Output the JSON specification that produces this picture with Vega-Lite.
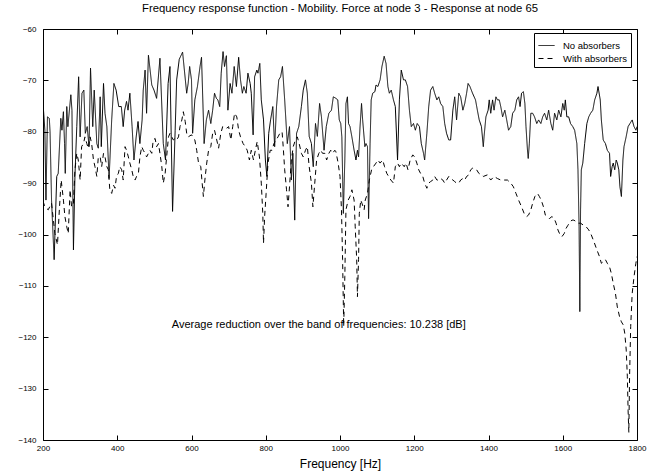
{
 "$schema": "https://vega.github.io/schema/vega-lite/v6.json",
 "width": 594, "height": 411,
 "autosize": {"type": "none"},
 "padding": {"left": 43, "top": 29, "right": 15, "bottom": 36},
 "background": "white",
 "title": {"text": "Frequency response function - Mobility. Force at node 3 - Response at node 65", "fontSize": 11.3, "font": "Liberation Sans", "fontWeight": "normal", "offset": 11, "color": "black"},
 "config": {"view": {"stroke": "black", "strokeWidth": 1}, "font": "Liberation Sans"},
 "layer": [
  {
   "data": {"values": [
{"f":200,"v":-77.0,"s":"No absorbers"},{"f":201,"v":-75.4,"s":"No absorbers"},{"f":205,"v":-79.7,"s":"No absorbers"},{"f":208,"v":-93.3,"s":"No absorbers"},{"f":212,"v":-77.1,"s":"No absorbers"},{"f":217,"v":-77.4,"s":"No absorbers"},{"f":219,"v":-80.0,"s":"No absorbers"},{"f":223,"v":-93.3,"s":"No absorbers"},{"f":230,"v":-104.9,"s":"No absorbers"},{"f":237,"v":-88.7,"s":"No absorbers"},{"f":241,"v":-88.1,"s":"No absorbers"},{"f":248,"v":-77.4,"s":"No absorbers"},{"f":251,"v":-79.7,"s":"No absorbers"},{"f":255,"v":-76.1,"s":"No absorbers"},{"f":258,"v":-82.3,"s":"No absorbers"},{"f":260,"v":-88.1,"s":"No absorbers"},{"f":264,"v":-75.1,"s":"No absorbers"},{"f":267,"v":-79.0,"s":"No absorbers"},{"f":275,"v":-72.8,"s":"No absorbers"},{"f":278,"v":-75.8,"s":"No absorbers"},{"f":282,"v":-103.0,"s":"No absorbers"},{"f":286,"v":-88.7,"s":"No absorbers"},{"f":291,"v":-79.0,"s":"No absorbers"},{"f":296,"v":-69.3,"s":"No absorbers"},{"f":300,"v":-81.0,"s":"No absorbers"},{"f":305,"v":-72.5,"s":"No absorbers"},{"f":310,"v":-71.9,"s":"No absorbers"},{"f":314,"v":-80.3,"s":"No absorbers"},{"f":319,"v":-79.0,"s":"No absorbers"},{"f":324,"v":-82.9,"s":"No absorbers"},{"f":328,"v":-67.6,"s":"No absorbers"},{"f":334,"v":-79.0,"s":"No absorbers"},{"f":338,"v":-71.9,"s":"No absorbers"},{"f":345,"v":-82.3,"s":"No absorbers"},{"f":349,"v":-83.2,"s":"No absorbers"},{"f":354,"v":-73.2,"s":"No absorbers"},{"f":357,"v":-82.9,"s":"No absorbers"},{"f":363,"v":-70.6,"s":"No absorbers"},{"f":367,"v":-76.4,"s":"No absorbers"},{"f":372,"v":-79.0,"s":"No absorbers"},{"f":378,"v":-89.1,"s":"No absorbers"},{"f":385,"v":-77.7,"s":"No absorbers"},{"f":391,"v":-70.6,"s":"No absorbers"},{"f":397,"v":-71.9,"s":"No absorbers"},{"f":404,"v":-75.1,"s":"No absorbers"},{"f":411,"v":-75.1,"s":"No absorbers"},{"f":416,"v":-79.0,"s":"No absorbers"},{"f":420,"v":-75.8,"s":"No absorbers"},{"f":425,"v":-74.1,"s":"No absorbers"},{"f":429,"v":-75.8,"s":"No absorbers"},{"f":434,"v":-72.5,"s":"No absorbers"},{"f":440,"v":-79.0,"s":"No absorbers"},{"f":445,"v":-85.5,"s":"No absorbers"},{"f":451,"v":-81.0,"s":"No absorbers"},{"f":456,"v":-78.0,"s":"No absorbers"},{"f":461,"v":-82.3,"s":"No absorbers"},{"f":467,"v":-77.7,"s":"No absorbers"},{"f":470,"v":-71.9,"s":"No absorbers"},{"f":475,"v":-68.0,"s":"No absorbers"},{"f":479,"v":-76.4,"s":"No absorbers"},{"f":484,"v":-65.1,"s":"No absorbers"},{"f":493,"v":-70.9,"s":"No absorbers"},{"f":499,"v":-71.9,"s":"No absorbers"},{"f":506,"v":-73.5,"s":"No absorbers"},{"f":515,"v":-65.7,"s":"No absorbers"},{"f":524,"v":-82.3,"s":"No absorbers"},{"f":530,"v":-85.5,"s":"No absorbers"},{"f":537,"v":-70.6,"s":"No absorbers"},{"f":542,"v":-67.3,"s":"No absorbers"},{"f":549,"v":-95.5,"s":"No absorbers"},{"f":556,"v":-79.7,"s":"No absorbers"},{"f":560,"v":-69.9,"s":"No absorbers"},{"f":567,"v":-65.9,"s":"No absorbers"},{"f":576,"v":-64.5,"s":"No absorbers"},{"f":587,"v":-72.5,"s":"No absorbers"},
{"f":591,"v":-70.6,"s":"No absorbers"},{"f":595,"v":-67.3,"s":"No absorbers"},{"f":600,"v":-69.9,"s":"No absorbers"},{"f":603,"v":-80.3,"s":"No absorbers"},{"f":609,"v":-73.8,"s":"No absorbers"},{"f":616,"v":-71.2,"s":"No absorbers"},{"f":623,"v":-67.3,"s":"No absorbers"},{"f":627,"v":-65.5,"s":"No absorbers"},{"f":634,"v":-82.3,"s":"No absorbers"},{"f":640,"v":-77.7,"s":"No absorbers"},{"f":646,"v":-75.8,"s":"No absorbers"},{"f":652,"v":-78.4,"s":"No absorbers"},{"f":657,"v":-75.8,"s":"No absorbers"},{"f":662,"v":-72.5,"s":"No absorbers"},{"f":667,"v":-73.5,"s":"No absorbers"},{"f":671,"v":-73.8,"s":"No absorbers"},{"f":676,"v":-75.1,"s":"No absorbers"},{"f":680,"v":-68.6,"s":"No absorbers"},{"f":685,"v":-64.4,"s":"No absorbers"},{"f":689,"v":-67.3,"s":"No absorbers"},{"f":694,"v":-65.2,"s":"No absorbers"},{"f":698,"v":-75.8,"s":"No absorbers"},{"f":704,"v":-70.6,"s":"No absorbers"},{"f":709,"v":-72.5,"s":"No absorbers"},{"f":715,"v":-67.3,"s":"No absorbers"},{"f":721,"v":-71.2,"s":"No absorbers"},{"f":727,"v":-65.5,"s":"No absorbers"},{"f":732,"v":-69.9,"s":"No absorbers"},{"f":737,"v":-72.5,"s":"No absorbers"},{"f":741,"v":-71.2,"s":"No absorbers"},{"f":747,"v":-72.5,"s":"No absorbers"},{"f":752,"v":-68.6,"s":"No absorbers"},{"f":758,"v":-70.6,"s":"No absorbers"},{"f":761,"v":-72.5,"s":"No absorbers"},{"f":766,"v":-80.6,"s":"No absorbers"},{"f":770,"v":-69.3,"s":"No absorbers"},{"f":776,"v":-68.0,"s":"No absorbers"},{"f":779,"v":-68.6,"s":"No absorbers"},{"f":784,"v":-66.7,"s":"No absorbers"},{"f":788,"v":-73.8,"s":"No absorbers"},{"f":794,"v":-77.7,"s":"No absorbers"},{"f":799,"v":-85.5,"s":"No absorbers"},{"f":803,"v":-88.7,"s":"No absorbers"},{"f":808,"v":-80.3,"s":"No absorbers"},{"f":813,"v":-77.7,"s":"No absorbers"},{"f":819,"v":-75.1,"s":"No absorbers"},{"f":824,"v":-82.9,"s":"No absorbers"},{"f":829,"v":-75.1,"s":"No absorbers"},{"f":835,"v":-69.9,"s":"No absorbers"},{"f":840,"v":-69.3,"s":"No absorbers"},{"f":845,"v":-67.3,"s":"No absorbers"},{"f":851,"v":-73.8,"s":"No absorbers"},{"f":858,"v":-82.3,"s":"No absorbers"},{"f":864,"v":-79.0,"s":"No absorbers"},{"f":869,"v":-89.4,"s":"No absorbers"},{"f":873,"v":-84.2,"s":"No absorbers"},{"f":878,"v":-97.2,"s":"No absorbers"},{"f":883,"v":-80.3,"s":"No absorbers"},{"f":889,"v":-79.0,"s":"No absorbers"},{"f":896,"v":-75.1,"s":"No absorbers"},{"f":901,"v":-71.9,"s":"No absorbers"},{"f":907,"v":-69.9,"s":"No absorbers"},{"f":912,"v":-72.5,"s":"No absorbers"},{"f":917,"v":-80.9,"s":"No absorbers"},{"f":923,"v":-82.3,"s":"No absorbers"},{"f":928,"v":-86.8,"s":"No absorbers"},{"f":934,"v":-78.4,"s":"No absorbers"},{"f":939,"v":-80.9,"s":"No absorbers"},{"f":945,"v":-74.5,"s":"No absorbers"},{"f":950,"v":-77.1,"s":"No absorbers"},{"f":957,"v":-83.6,"s":"No absorbers"},{"f":963,"v":-79.0,"s":"No absorbers"},{"f":970,"v":-76.4,"s":"No absorbers"},{"f":977,"v":-75.8,"s":"No absorbers"},{"f":982,"v":-73.2,"s":"No absorbers"},
{"f":989,"v":-73.5,"s":"No absorbers"},{"f":994,"v":-73.8,"s":"No absorbers"},{"f":998,"v":-77.7,"s":"No absorbers"},{"f":1002,"v":-78.4,"s":"No absorbers"},{"f":1005,"v":-81.0,"s":"No absorbers"},{"f":1009,"v":-95.9,"s":"No absorbers"},{"f":1013,"v":-85.5,"s":"No absorbers"},{"f":1016,"v":-74.5,"s":"No absorbers"},{"f":1020,"v":-73.2,"s":"No absorbers"},{"f":1023,"v":-78.4,"s":"No absorbers"},{"f":1027,"v":-79.0,"s":"No absorbers"},{"f":1032,"v":-81.0,"s":"No absorbers"},{"f":1038,"v":-83.6,"s":"No absorbers"},{"f":1043,"v":-85.5,"s":"No absorbers"},{"f":1047,"v":-83.6,"s":"No absorbers"},{"f":1050,"v":-84.9,"s":"No absorbers"},{"f":1054,"v":-79.0,"s":"No absorbers"},{"f":1058,"v":-74.5,"s":"No absorbers"},{"f":1061,"v":-77.7,"s":"No absorbers"},{"f":1067,"v":-82.9,"s":"No absorbers"},{"f":1070,"v":-82.3,"s":"No absorbers"},{"f":1074,"v":-82.9,"s":"No absorbers"},{"f":1077,"v":-96.9,"s":"No absorbers"},{"f":1081,"v":-82.3,"s":"No absorbers"},{"f":1084,"v":-73.8,"s":"No absorbers"},{"f":1088,"v":-72.5,"s":"No absorbers"},{"f":1094,"v":-72.2,"s":"No absorbers"},{"f":1097,"v":-70.9,"s":"No absorbers"},{"f":1102,"v":-71.2,"s":"No absorbers"},{"f":1108,"v":-69.9,"s":"No absorbers"},{"f":1113,"v":-67.3,"s":"No absorbers"},{"f":1119,"v":-65.3,"s":"No absorbers"},{"f":1124,"v":-66.7,"s":"No absorbers"},{"f":1129,"v":-71.2,"s":"No absorbers"},{"f":1133,"v":-72.5,"s":"No absorbers"},{"f":1138,"v":-71.9,"s":"No absorbers"},{"f":1144,"v":-73.8,"s":"No absorbers"},{"f":1149,"v":-75.1,"s":"No absorbers"},{"f":1155,"v":-85.5,"s":"No absorbers"},{"f":1160,"v":-73.8,"s":"No absorbers"},{"f":1165,"v":-68.0,"s":"No absorbers"},{"f":1171,"v":-69.9,"s":"No absorbers"},{"f":1176,"v":-69.9,"s":"No absorbers"},{"f":1182,"v":-71.2,"s":"No absorbers"},{"f":1187,"v":-75.8,"s":"No absorbers"},{"f":1192,"v":-79.0,"s":"No absorbers"},{"f":1198,"v":-78.4,"s":"No absorbers"},{"f":1203,"v":-79.7,"s":"No absorbers"},{"f":1208,"v":-78.4,"s":"No absorbers"},{"f":1214,"v":-79.0,"s":"No absorbers"},{"f":1219,"v":-82.3,"s":"No absorbers"},{"f":1225,"v":-84.2,"s":"No absorbers"},{"f":1228,"v":-85.5,"s":"No absorbers"},{"f":1234,"v":-80.3,"s":"No absorbers"},{"f":1239,"v":-75.1,"s":"No absorbers"},{"f":1244,"v":-71.9,"s":"No absorbers"},{"f":1250,"v":-71.2,"s":"No absorbers"},{"f":1255,"v":-72.5,"s":"No absorbers"},{"f":1261,"v":-73.8,"s":"No absorbers"},{"f":1266,"v":-73.2,"s":"No absorbers"},{"f":1271,"v":-74.5,"s":"No absorbers"},{"f":1277,"v":-75.1,"s":"No absorbers"},{"f":1282,"v":-78.4,"s":"No absorbers"},{"f":1287,"v":-80.3,"s":"No absorbers"},{"f":1293,"v":-81.6,"s":"No absorbers"},{"f":1298,"v":-81.6,"s":"No absorbers"},{"f":1304,"v":-75.8,"s":"No absorbers"},{"f":1309,"v":-73.2,"s":"No absorbers"},{"f":1314,"v":-77.7,"s":"No absorbers"},{"f":1320,"v":-72.5,"s":"No absorbers"},{"f":1325,"v":-73.2,"s":"No absorbers"},{"f":1331,"v":-75.8,"s":"No absorbers"},{"f":1336,"v":-74.5,"s":"No absorbers"},{"f":1341,"v":-72.5,"s":"No absorbers"},{"f":1345,"v":-70.6,"s":"No absorbers"},{"f":1350,"v":-71.2,"s":"No absorbers"},{"f":1357,"v":-72.5,"s":"No absorbers"},{"f":1365,"v":-73.8,"s":"No absorbers"},{"f":1370,"v":-75.8,"s":"No absorbers"},{"f":1375,"v":-77.7,"s":"No absorbers"},{"f":1381,"v":-79.0,"s":"No absorbers"},{"f":1386,"v":-82.9,"s":"No absorbers"},
{"f":1388,"v":-81.0,"s":"No absorbers"},{"f":1393,"v":-77.1,"s":"No absorbers"},{"f":1399,"v":-75.8,"s":"No absorbers"},{"f":1402,"v":-73.8,"s":"No absorbers"},{"f":1406,"v":-76.4,"s":"No absorbers"},{"f":1411,"v":-73.8,"s":"No absorbers"},{"f":1415,"v":-75.8,"s":"No absorbers"},{"f":1420,"v":-73.2,"s":"No absorbers"},{"f":1424,"v":-73.8,"s":"No absorbers"},{"f":1429,"v":-73.8,"s":"No absorbers"},{"f":1433,"v":-75.1,"s":"No absorbers"},{"f":1438,"v":-77.1,"s":"No absorbers"},{"f":1444,"v":-75.8,"s":"No absorbers"},{"f":1449,"v":-77.7,"s":"No absorbers"},{"f":1454,"v":-79.7,"s":"No absorbers"},{"f":1460,"v":-79.0,"s":"No absorbers"},{"f":1465,"v":-76.4,"s":"No absorbers"},{"f":1471,"v":-75.8,"s":"No absorbers"},{"f":1476,"v":-73.8,"s":"No absorbers"},{"f":1481,"v":-73.2,"s":"No absorbers"},{"f":1485,"v":-75.1,"s":"No absorbers"},{"f":1489,"v":-72.5,"s":"No absorbers"},{"f":1494,"v":-72.2,"s":"No absorbers"},{"f":1498,"v":-74.5,"s":"No absorbers"},{"f":1501,"v":-79.0,"s":"No absorbers"},{"f":1505,"v":-83.6,"s":"No absorbers"},{"f":1507,"v":-85.2,"s":"No absorbers"},{"f":1510,"v":-82.3,"s":"No absorbers"},{"f":1514,"v":-76.4,"s":"No absorbers"},{"f":1519,"v":-76.4,"s":"No absorbers"},{"f":1524,"v":-77.1,"s":"No absorbers"},{"f":1530,"v":-78.4,"s":"No absorbers"},{"f":1535,"v":-77.7,"s":"No absorbers"},{"f":1541,"v":-78.4,"s":"No absorbers"},{"f":1546,"v":-77.1,"s":"No absorbers"},{"f":1551,"v":-76.4,"s":"No absorbers"},{"f":1557,"v":-77.7,"s":"No absorbers"},{"f":1562,"v":-75.8,"s":"No absorbers"},{"f":1568,"v":-78.4,"s":"No absorbers"},{"f":1573,"v":-79.7,"s":"No absorbers"},{"f":1578,"v":-76.4,"s":"No absorbers"},{"f":1584,"v":-77.7,"s":"No absorbers"},{"f":1589,"v":-75.8,"s":"No absorbers"},{"f":1595,"v":-77.1,"s":"No absorbers"},{"f":1600,"v":-74.5,"s":"No absorbers"},{"f":1604,"v":-75.8,"s":"No absorbers"},{"f":1607,"v":-73.8,"s":"No absorbers"},{"f":1611,"v":-77.1,"s":"No absorbers"},{"f":1616,"v":-77.1,"s":"No absorbers"},{"f":1621,"v":-78.4,"s":"No absorbers"},{"f":1627,"v":-79.0,"s":"No absorbers"},{"f":1632,"v":-79.7,"s":"No absorbers"},{"f":1638,"v":-82.3,"s":"No absorbers"},{"f":1641,"v":-87.4,"s":"No absorbers"},{"f":1644,"v":-98.5,"s":"No absorbers"},{"f":1646,"v":-115.0,"s":"No absorbers"},{"f":1648,"v":-95.2,"s":"No absorbers"},{"f":1650,"v":-87.4,"s":"No absorbers"},{"f":1654,"v":-86.1,"s":"No absorbers"},{"f":1659,"v":-82.3,"s":"No absorbers"},{"f":1665,"v":-78.4,"s":"No absorbers"},{"f":1670,"v":-77.1,"s":"No absorbers"},{"f":1675,"v":-76.4,"s":"No absorbers"},{"f":1681,"v":-75.8,"s":"No absorbers"},{"f":1686,"v":-73.8,"s":"No absorbers"},{"f":1692,"v":-72.5,"s":"No absorbers"},{"f":1695,"v":-71.2,"s":"No absorbers"},{"f":1701,"v":-73.8,"s":"No absorbers"},{"f":1704,"v":-77.7,"s":"No absorbers"},{"f":1709,"v":-81.6,"s":"No absorbers"},{"f":1715,"v":-82.3,"s":"No absorbers"},{"f":1720,"v":-83.6,"s":"No absorbers"},{"f":1726,"v":-84.2,"s":"No absorbers"},{"f":1729,"v":-88.7,"s":"No absorbers"},{"f":1733,"v":-86.8,"s":"No absorbers"},{"f":1736,"v":-86.1,"s":"No absorbers"},{"f":1740,"v":-87.4,"s":"No absorbers"},{"f":1744,"v":-85.5,"s":"No absorbers"},{"f":1747,"v":-86.1,"s":"No absorbers"},{"f":1751,"v":-87.4,"s":"No absorbers"},{"f":1754,"v":-90.7,"s":"No absorbers"},{"f":1758,"v":-92.6,"s":"No absorbers"},{"f":1762,"v":-85.5,"s":"No absorbers"},{"f":1765,"v":-82.9,"s":"No absorbers"},{"f":1771,"v":-80.9,"s":"No absorbers"},{"f":1776,"v":-79.0,"s":"No absorbers"},{"f":1781,"v":-78.4,"s":"No absorbers"},{"f":1787,"v":-77.7,"s":"No absorbers"},{"f":1792,"v":-79.0,"s":"No absorbers"},{"f":1797,"v":-79.7,"s":"No absorbers"},{"f":1800,"v":-79.0,"s":"No absorbers"},
{"f":200,"v":-93.5,"s":"With absorbers"},{"f":205,"v":-94.6,"s":"With absorbers"},{"f":214,"v":-95.2,"s":"With absorbers"},{"f":223,"v":-93.9,"s":"With absorbers"},{"f":232,"v":-99.8,"s":"With absorbers"},{"f":239,"v":-102.0,"s":"With absorbers"},{"f":244,"v":-95.2,"s":"With absorbers"},{"f":249,"v":-89.4,"s":"With absorbers"},{"f":255,"v":-93.3,"s":"With absorbers"},{"f":259,"v":-96.5,"s":"With absorbers"},{"f":264,"v":-98.5,"s":"With absorbers"},{"f":268,"v":-99.8,"s":"With absorbers"},{"f":273,"v":-91.3,"s":"With absorbers"},{"f":277,"v":-94.6,"s":"With absorbers"},{"f":282,"v":-93.9,"s":"With absorbers"},{"f":286,"v":-87.4,"s":"With absorbers"},{"f":291,"v":-84.2,"s":"With absorbers"},{"f":295,"v":-85.5,"s":"With absorbers"},{"f":300,"v":-89.4,"s":"With absorbers"},{"f":304,"v":-82.9,"s":"With absorbers"},{"f":309,"v":-82.3,"s":"With absorbers"},{"f":313,"v":-81.0,"s":"With absorbers"},{"f":318,"v":-82.3,"s":"With absorbers"},{"f":322,"v":-83.2,"s":"With absorbers"},{"f":327,"v":-81.0,"s":"With absorbers"},{"f":331,"v":-82.3,"s":"With absorbers"},{"f":336,"v":-85.5,"s":"With absorbers"},{"f":340,"v":-86.8,"s":"With absorbers"},{"f":345,"v":-88.7,"s":"With absorbers"},{"f":349,"v":-84.9,"s":"With absorbers"},{"f":354,"v":-84.9,"s":"With absorbers"},{"f":358,"v":-86.8,"s":"With absorbers"},{"f":363,"v":-84.2,"s":"With absorbers"},{"f":367,"v":-84.9,"s":"With absorbers"},{"f":372,"v":-86.8,"s":"With absorbers"},{"f":376,"v":-87.4,"s":"With absorbers"},{"f":380,"v":-91.3,"s":"With absorbers"},{"f":385,"v":-92.0,"s":"With absorbers"},{"f":390,"v":-90.4,"s":"With absorbers"},{"f":394,"v":-91.0,"s":"With absorbers"},{"f":398,"v":-88.7,"s":"With absorbers"},{"f":403,"v":-88.1,"s":"With absorbers"},{"f":407,"v":-86.8,"s":"With absorbers"},{"f":412,"v":-87.4,"s":"With absorbers"},{"f":416,"v":-89.4,"s":"With absorbers"},{"f":421,"v":-82.9,"s":"With absorbers"},{"f":425,"v":-83.6,"s":"With absorbers"},{"f":430,"v":-84.9,"s":"With absorbers"},{"f":434,"v":-86.1,"s":"With absorbers"},{"f":439,"v":-87.4,"s":"With absorbers"},{"f":443,"v":-88.7,"s":"With absorbers"},{"f":448,"v":-89.4,"s":"With absorbers"},{"f":452,"v":-88.7,"s":"With absorbers"},{"f":457,"v":-88.1,"s":"With absorbers"},{"f":461,"v":-84.9,"s":"With absorbers"},{"f":466,"v":-82.9,"s":"With absorbers"},{"f":470,"v":-83.6,"s":"With absorbers"},{"f":475,"v":-84.2,"s":"With absorbers"},{"f":479,"v":-84.9,"s":"With absorbers"},{"f":484,"v":-84.2,"s":"With absorbers"},{"f":488,"v":-83.6,"s":"With absorbers"},{"f":493,"v":-84.2,"s":"With absorbers"},{"f":497,"v":-81.6,"s":"With absorbers"},{"f":502,"v":-81.3,"s":"With absorbers"},{"f":506,"v":-82.9,"s":"With absorbers"},{"f":511,"v":-82.3,"s":"With absorbers"},{"f":515,"v":-84.2,"s":"With absorbers"},{"f":520,"v":-86.8,"s":"With absorbers"},{"f":524,"v":-90.0,"s":"With absorbers"},{"f":529,"v":-88.1,"s":"With absorbers"},{"f":533,"v":-84.9,"s":"With absorbers"},{"f":538,"v":-81.0,"s":"With absorbers"},{"f":542,"v":-80.3,"s":"With absorbers"},{"f":547,"v":-81.0,"s":"With absorbers"},{"f":551,"v":-81.6,"s":"With absorbers"},{"f":556,"v":-81.3,"s":"With absorbers"},{"f":560,"v":-81.6,"s":"With absorbers"},{"f":565,"v":-81.0,"s":"With absorbers"},{"f":569,"v":-79.0,"s":"With absorbers"},{"f":574,"v":-77.7,"s":"With absorbers"},{"f":578,"v":-76.1,"s":"With absorbers"},{"f":583,"v":-78.0,"s":"With absorbers"},{"f":587,"v":-80.3,"s":"With absorbers"},
{"f":591,"v":-81.0,"s":"With absorbers"},{"f":600,"v":-80.6,"s":"With absorbers"},{"f":609,"v":-81.6,"s":"With absorbers"},{"f":614,"v":-83.6,"s":"With absorbers"},{"f":619,"v":-86.1,"s":"With absorbers"},{"f":625,"v":-86.8,"s":"With absorbers"},{"f":628,"v":-89.4,"s":"With absorbers"},{"f":632,"v":-92.6,"s":"With absorbers"},{"f":636,"v":-89.4,"s":"With absorbers"},{"f":641,"v":-86.1,"s":"With absorbers"},{"f":646,"v":-83.6,"s":"With absorbers"},{"f":652,"v":-82.9,"s":"With absorbers"},{"f":657,"v":-80.3,"s":"With absorbers"},{"f":662,"v":-79.7,"s":"With absorbers"},{"f":668,"v":-81.6,"s":"With absorbers"},{"f":673,"v":-83.2,"s":"With absorbers"},{"f":679,"v":-80.3,"s":"With absorbers"},{"f":684,"v":-79.0,"s":"With absorbers"},{"f":689,"v":-79.3,"s":"With absorbers"},{"f":695,"v":-79.3,"s":"With absorbers"},{"f":700,"v":-79.0,"s":"With absorbers"},{"f":706,"v":-81.6,"s":"With absorbers"},{"f":711,"v":-79.0,"s":"With absorbers"},{"f":716,"v":-76.4,"s":"With absorbers"},{"f":722,"v":-77.1,"s":"With absorbers"},{"f":727,"v":-79.7,"s":"With absorbers"},{"f":732,"v":-81.0,"s":"With absorbers"},{"f":739,"v":-82.3,"s":"With absorbers"},{"f":745,"v":-82.9,"s":"With absorbers"},{"f":750,"v":-83.6,"s":"With absorbers"},{"f":756,"v":-85.5,"s":"With absorbers"},{"f":761,"v":-83.6,"s":"With absorbers"},{"f":767,"v":-85.5,"s":"With absorbers"},{"f":772,"v":-83.6,"s":"With absorbers"},{"f":777,"v":-81.9,"s":"With absorbers"},{"f":783,"v":-84.9,"s":"With absorbers"},{"f":788,"v":-90.0,"s":"With absorbers"},{"f":792,"v":-95.9,"s":"With absorbers"},{"f":794,"v":-101.7,"s":"With absorbers"},{"f":797,"v":-96.5,"s":"With absorbers"},{"f":801,"v":-92.0,"s":"With absorbers"},{"f":806,"v":-86.1,"s":"With absorbers"},{"f":812,"v":-83.6,"s":"With absorbers"},{"f":817,"v":-83.6,"s":"With absorbers"},{"f":822,"v":-82.3,"s":"With absorbers"},{"f":828,"v":-81.6,"s":"With absorbers"},{"f":833,"v":-81.0,"s":"With absorbers"},{"f":838,"v":-80.3,"s":"With absorbers"},{"f":844,"v":-80.0,"s":"With absorbers"},{"f":847,"v":-82.9,"s":"With absorbers"},{"f":851,"v":-87.4,"s":"With absorbers"},{"f":856,"v":-91.3,"s":"With absorbers"},{"f":860,"v":-94.6,"s":"With absorbers"},{"f":864,"v":-90.7,"s":"With absorbers"},{"f":869,"v":-85.5,"s":"With absorbers"},{"f":874,"v":-82.9,"s":"With absorbers"},{"f":880,"v":-81.6,"s":"With absorbers"},{"f":885,"v":-81.0,"s":"With absorbers"},{"f":890,"v":-82.3,"s":"With absorbers"},{"f":896,"v":-84.2,"s":"With absorbers"},{"f":901,"v":-84.9,"s":"With absorbers"},{"f":907,"v":-83.6,"s":"With absorbers"},{"f":912,"v":-82.9,"s":"With absorbers"},{"f":917,"v":-86.8,"s":"With absorbers"},{"f":923,"v":-90.0,"s":"With absorbers"},{"f":927,"v":-94.6,"s":"With absorbers"},{"f":932,"v":-90.0,"s":"With absorbers"},{"f":937,"v":-85.5,"s":"With absorbers"},{"f":943,"v":-84.2,"s":"With absorbers"},{"f":948,"v":-83.6,"s":"With absorbers"},{"f":953,"v":-84.2,"s":"With absorbers"},{"f":959,"v":-84.2,"s":"With absorbers"},{"f":964,"v":-85.5,"s":"With absorbers"},{"f":970,"v":-84.2,"s":"With absorbers"},{"f":975,"v":-83.6,"s":"With absorbers"},{"f":980,"v":-84.2,"s":"With absorbers"},{"f":986,"v":-83.6,"s":"With absorbers"},
{"f":989,"v":-83.9,"s":"With absorbers"},{"f":995,"v":-86.1,"s":"With absorbers"},{"f":1000,"v":-88.7,"s":"With absorbers"},{"f":1004,"v":-95.2,"s":"With absorbers"},{"f":1007,"v":-104.9,"s":"With absorbers"},{"f":1010,"v":-117.9,"s":"With absorbers"},{"f":1013,"v":-108.2,"s":"With absorbers"},{"f":1016,"v":-95.2,"s":"With absorbers"},{"f":1022,"v":-93.3,"s":"With absorbers"},{"f":1027,"v":-92.6,"s":"With absorbers"},{"f":1032,"v":-91.3,"s":"With absorbers"},{"f":1038,"v":-93.3,"s":"With absorbers"},{"f":1041,"v":-98.5,"s":"With absorbers"},{"f":1045,"v":-104.9,"s":"With absorbers"},{"f":1047,"v":-112.1,"s":"With absorbers"},{"f":1050,"v":-104.9,"s":"With absorbers"},{"f":1052,"v":-95.9,"s":"With absorbers"},{"f":1056,"v":-93.3,"s":"With absorbers"},{"f":1059,"v":-93.9,"s":"With absorbers"},{"f":1065,"v":-95.2,"s":"With absorbers"},{"f":1068,"v":-93.3,"s":"With absorbers"},{"f":1074,"v":-92.0,"s":"With absorbers"},{"f":1079,"v":-89.4,"s":"With absorbers"},{"f":1085,"v":-87.4,"s":"With absorbers"},{"f":1090,"v":-86.8,"s":"With absorbers"},{"f":1097,"v":-86.1,"s":"With absorbers"},{"f":1102,"v":-85.5,"s":"With absorbers"},{"f":1108,"v":-86.1,"s":"With absorbers"},{"f":1115,"v":-85.5,"s":"With absorbers"},{"f":1120,"v":-86.8,"s":"With absorbers"},{"f":1126,"v":-88.1,"s":"With absorbers"},{"f":1131,"v":-88.7,"s":"With absorbers"},{"f":1137,"v":-89.4,"s":"With absorbers"},{"f":1144,"v":-90.0,"s":"With absorbers"},{"f":1149,"v":-86.8,"s":"With absorbers"},{"f":1155,"v":-86.1,"s":"With absorbers"},{"f":1160,"v":-86.8,"s":"With absorbers"},{"f":1165,"v":-86.1,"s":"With absorbers"},{"f":1173,"v":-86.8,"s":"With absorbers"},{"f":1178,"v":-86.1,"s":"With absorbers"},{"f":1183,"v":-87.4,"s":"With absorbers"},{"f":1189,"v":-85.5,"s":"With absorbers"},{"f":1196,"v":-84.5,"s":"With absorbers"},{"f":1201,"v":-84.9,"s":"With absorbers"},{"f":1207,"v":-86.1,"s":"With absorbers"},{"f":1212,"v":-87.4,"s":"With absorbers"},{"f":1217,"v":-88.1,"s":"With absorbers"},{"f":1223,"v":-88.7,"s":"With absorbers"},{"f":1228,"v":-90.0,"s":"With absorbers"},{"f":1234,"v":-91.0,"s":"With absorbers"},{"f":1239,"v":-90.0,"s":"With absorbers"},{"f":1244,"v":-89.7,"s":"With absorbers"},{"f":1250,"v":-89.4,"s":"With absorbers"},{"f":1255,"v":-88.7,"s":"With absorbers"},{"f":1261,"v":-89.4,"s":"With absorbers"},{"f":1266,"v":-89.4,"s":"With absorbers"},{"f":1271,"v":-89.1,"s":"With absorbers"},{"f":1277,"v":-89.4,"s":"With absorbers"},{"f":1282,"v":-90.0,"s":"With absorbers"},{"f":1287,"v":-89.4,"s":"With absorbers"},{"f":1293,"v":-88.7,"s":"With absorbers"},{"f":1298,"v":-89.1,"s":"With absorbers"},{"f":1304,"v":-89.4,"s":"With absorbers"},{"f":1309,"v":-89.7,"s":"With absorbers"},{"f":1314,"v":-90.0,"s":"With absorbers"},{"f":1320,"v":-90.0,"s":"With absorbers"},{"f":1325,"v":-89.4,"s":"With absorbers"},{"f":1331,"v":-89.1,"s":"With absorbers"},{"f":1336,"v":-89.4,"s":"With absorbers"},{"f":1341,"v":-88.7,"s":"With absorbers"},{"f":1347,"v":-88.4,"s":"With absorbers"},{"f":1352,"v":-87.4,"s":"With absorbers"},{"f":1357,"v":-87.1,"s":"With absorbers"},{"f":1363,"v":-87.4,"s":"With absorbers"},{"f":1368,"v":-87.4,"s":"With absorbers"},{"f":1374,"v":-88.1,"s":"With absorbers"},{"f":1381,"v":-88.4,"s":"With absorbers"},{"f":1386,"v":-88.7,"s":"With absorbers"},
{"f":1397,"v":-88.4,"s":"With absorbers"},{"f":1406,"v":-89.4,"s":"With absorbers"},{"f":1415,"v":-88.7,"s":"With absorbers"},{"f":1424,"v":-89.1,"s":"With absorbers"},{"f":1433,"v":-89.4,"s":"With absorbers"},{"f":1442,"v":-89.4,"s":"With absorbers"},{"f":1451,"v":-89.4,"s":"With absorbers"},{"f":1460,"v":-90.0,"s":"With absorbers"},{"f":1467,"v":-90.7,"s":"With absorbers"},{"f":1474,"v":-92.0,"s":"With absorbers"},{"f":1481,"v":-93.3,"s":"With absorbers"},{"f":1489,"v":-94.6,"s":"With absorbers"},{"f":1496,"v":-95.9,"s":"With absorbers"},{"f":1503,"v":-96.5,"s":"With absorbers"},{"f":1508,"v":-96.2,"s":"With absorbers"},{"f":1514,"v":-95.2,"s":"With absorbers"},{"f":1519,"v":-93.9,"s":"With absorbers"},{"f":1525,"v":-92.6,"s":"With absorbers"},{"f":1532,"v":-92.0,"s":"With absorbers"},{"f":1537,"v":-92.6,"s":"With absorbers"},{"f":1542,"v":-93.3,"s":"With absorbers"},{"f":1548,"v":-94.6,"s":"With absorbers"},{"f":1553,"v":-96.2,"s":"With absorbers"},{"f":1559,"v":-96.5,"s":"With absorbers"},{"f":1564,"v":-96.9,"s":"With absorbers"},{"f":1571,"v":-96.5,"s":"With absorbers"},{"f":1577,"v":-96.9,"s":"With absorbers"},{"f":1582,"v":-97.8,"s":"With absorbers"},{"f":1587,"v":-99.1,"s":"With absorbers"},{"f":1593,"v":-100.1,"s":"With absorbers"},{"f":1598,"v":-100.4,"s":"With absorbers"},{"f":1604,"v":-99.8,"s":"With absorbers"},{"f":1609,"v":-98.8,"s":"With absorbers"},{"f":1614,"v":-98.2,"s":"With absorbers"},{"f":1620,"v":-97.5,"s":"With absorbers"},{"f":1625,"v":-97.2,"s":"With absorbers"},{"f":1630,"v":-97.2,"s":"With absorbers"},{"f":1636,"v":-97.5,"s":"With absorbers"},{"f":1641,"v":-97.8,"s":"With absorbers"},{"f":1648,"v":-97.8,"s":"With absorbers"},{"f":1656,"v":-98.2,"s":"With absorbers"},{"f":1663,"v":-98.5,"s":"With absorbers"},{"f":1670,"v":-99.1,"s":"With absorbers"},{"f":1677,"v":-100.1,"s":"With absorbers"},{"f":1684,"v":-101.4,"s":"With absorbers"},{"f":1692,"v":-103.0,"s":"With absorbers"},{"f":1699,"v":-104.3,"s":"With absorbers"},{"f":1704,"v":-105.6,"s":"With absorbers"},{"f":1709,"v":-105.3,"s":"With absorbers"},{"f":1715,"v":-104.9,"s":"With absorbers"},{"f":1720,"v":-105.6,"s":"With absorbers"},{"f":1726,"v":-106.3,"s":"With absorbers"},{"f":1731,"v":-107.6,"s":"With absorbers"},{"f":1736,"v":-109.5,"s":"With absorbers"},{"f":1742,"v":-111.5,"s":"With absorbers"},{"f":1747,"v":-114.1,"s":"With absorbers"},{"f":1753,"v":-116.0,"s":"With absorbers"},{"f":1758,"v":-117.0,"s":"With absorbers"},{"f":1763,"v":-117.6,"s":"With absorbers"},{"f":1767,"v":-119.2,"s":"With absorbers"},{"f":1771,"v":-122.5,"s":"With absorbers"},{"f":1774,"v":-127.7,"s":"With absorbers"},{"f":1776,"v":-134.2,"s":"With absorbers"},{"f":1778,"v":-138.5,"s":"With absorbers"},{"f":1780,"v":-127.7,"s":"With absorbers"},{"f":1783,"v":-117.9,"s":"With absorbers"},{"f":1787,"v":-111.5,"s":"With absorbers"},{"f":1792,"v":-108.2,"s":"With absorbers"},{"f":1797,"v":-105.6,"s":"With absorbers"},{"f":1800,"v":-104.3,"s":"With absorbers"}
   ]},
   "mark": {"type": "line", "color": "black", "strokeWidth": 1, "clip": true},
   "encoding": {
    "x": {"field": "f", "type": "quantitative", "scale": {"domain": [200, 1800], "nice": false, "zero": false},
          "axis": {"values": [200,400,600,800,1000,1200,1400,1600,1800], "format": "d", "offset": -5, "tickSize": 5, "domain": false, "labelPadding": 4, "labelFontSize": 8, "labelFont": "Liberation Sans", "labelColor": "black", "tickColor": "black", "grid": false, "labelFlush": false, "labelOverlap": false, "title": "Frequency [Hz]", "titleFontSize": 12, "titleFontWeight": "normal", "titleFont": "Liberation Sans", "titleColor": "black", "titlePadding": 6}},
    "y": {"field": "v", "type": "quantitative", "scale": {"domain": [-140, -60], "nice": false, "zero": false},
          "axis": {"values": [-140,-130,-120,-110,-100,-90,-80,-70,-60], "format": "d", "offset": -5, "tickSize": 5, "domain": false, "labelPadding": 7, "labelFontSize": 8, "labelFont": "Liberation Sans", "labelColor": "black", "tickColor": "black", "grid": false, "labelFlush": false, "labelOverlap": false, "title": null}},
    "strokeDash": {"field": "s", "type": "nominal", "scale": {"domain": ["No absorbers", "With absorbers"], "range": [[1, 0], [5, 4]]},
          "legend": {"orient": "none", "legendX": 491, "legendY": 4, "title": null, "strokeColor": "black", "fillColor": "white", "padding": 4, "labelFontSize": 9.5, "labelFont": "Liberation Sans", "labelColor": "black", "symbolType": "stroke", "symbolStrokeColor": "black", "symbolStrokeWidth": 1, "symbolSize": 256, "labelOffset": 8, "rowPadding": -4}}
   }
  },
  {
   "data": {"values": [{"f": 547, "v": -117.6, "t": "Average reduction over the band of frequencies: 10.238 [dB]"}]},
   "mark": {"type": "text", "align": "left", "baseline": "middle", "fontSize": 11, "font": "Liberation Sans", "color": "black"},
   "encoding": {
    "x": {"field": "f", "type": "quantitative", "scale": {"domain": [200, 1800], "nice": false, "zero": false},
          "axis": {"orient": "top", "values": [200,400,600,800,1000,1200,1400,1600,1800], "offset": -5, "tickSize": 5, "labels": false, "domain": false, "tickColor": "black", "grid": false, "title": null}},
    "y": {"field": "v", "type": "quantitative", "scale": {"domain": [-140, -60], "nice": false, "zero": false},
          "axis": {"orient": "right", "values": [-140,-130,-120,-110,-100,-90,-80,-70,-60], "offset": -5, "tickSize": 5, "labels": false, "domain": false, "tickColor": "black", "grid": false, "title": null}},
    "text": {"field": "t"}
   }
  }
 ],
 "resolve": {"axis": {"x": "independent", "y": "independent"}}
}
